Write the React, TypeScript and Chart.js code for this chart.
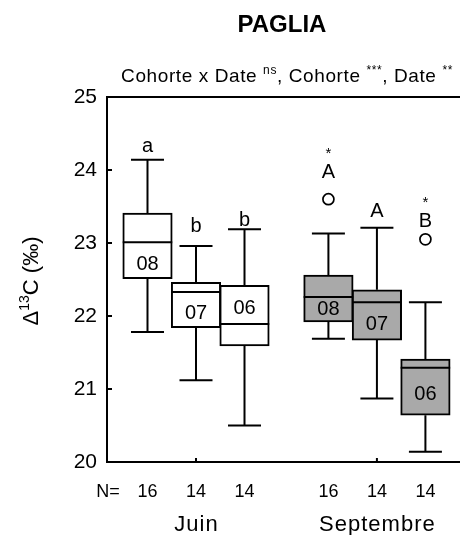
import React, { useEffect, useRef } from 'react';
import { Chart, registerables } from 'chart.js';

Chart.register(...registerables);

// ---- data ----
const cohorts = ['08', '07', '06', '08', '07', '06'];
const groups = ['Juin', 'Septembre'];
const groupOf = [0, 0, 0, 1, 1, 1];
const nValues = [16, 14, 14, 16, 14, 14];
const whiskerHigh = [24.14, 22.96, 23.19, 23.13, 23.21, 22.19];
const q3 = [23.41, 22.46, 22.42, 22.56, 22.36, 21.41];
const median = [23.01, 22.33, 21.89, 22.26, 22.19, 21.29];
const q1 = [22.51, 21.84, 21.59, 21.92, 21.67, 20.64];
const whiskerLow = [21.78, 21.12, 20.5, 21.69, 20.87, 20.14];
const outliers: (number | null)[] = [null, null, null, 23.6, null, 23.05];
const letters = ['a', 'b', 'b', 'A', 'A', 'B'];
const letterY = [24.25, 23.15, 23.23, 23.89, 23.36, 23.22];
const stars = ['', '', '', '*', '', '*'];
const cohortLabelY = [22.7, 22.04, 22.1, 22.09, 21.88, 20.92];
const yTicks = [20, 21, 22, 23, 24, 25];

const chartTitle = 'PAGLIA';
const subtitleParts: [string, boolean][] = [
  ['Cohorte x Date ', false],
  ['ns', true],
  [', Cohorte ', false],
  ['***', true],
  [', Date ', false],
  ['**', true],
];

// ---- layout / style ----
const W = 460;
const H = 535;
const FONT = '"Liberation Sans", Arial, Helvetica, sans-serif';
const GROUP_STEP = 3.73;
const xPos = groupOf.map((g, i) => g * GROUP_STEP + (i - g * 3) + 1);
const groupCenter = [2, 2 + GROUP_STEP];
const fills = groupOf.map((g) => (g === 0 ? '#ffffff' : '#a9a9a9'));

function drawSupText(
  ctx: CanvasRenderingContext2D,
  parts: [string, boolean][],
  size: number,
  cx: number,
  cy: number,
  rotate = false,
  spacing = 0
) {
  const supSize = Math.round(size * 0.62);
  (ctx as any).letterSpacing = `${spacing}px`;
  let total = 0;
  for (const [t, sup] of parts) {
    ctx.font = `${sup ? supSize : size}px ${FONT}`;
    total += ctx.measureText(t).width;
  }
  ctx.save();
  ctx.translate(cx, cy);
  if (rotate) ctx.rotate(-Math.PI / 2);
  let x = -total / 2;
  ctx.textAlign = 'left';
  ctx.textBaseline = 'alphabetic';
  const base = size * 0.36;
  for (const [t, sup] of parts) {
    ctx.font = `${sup ? supSize : size}px ${FONT}`;
    ctx.fillText(t, x, sup ? base - size * 0.42 : base);
    x += ctx.measureText(t).width;
  }
  ctx.restore();
  (ctx as any).letterSpacing = '0px';
}

const boxPlugin = {
  id: 'boxExtras',
  afterDatasetsDraw(chart: any) {
    const { ctx, chartArea } = chart;
    const xs = chart.scales.x;
    const ys = chart.scales.y;
    const meta = chart.getDatasetMeta(0);
    ctx.save();
    ctx.strokeStyle = '#000';
    ctx.fillStyle = '#000';
    ctx.lineWidth = 2;
    ctx.lineCap = 'butt';
    const cap = 16.5;
    cohorts.forEach((c, i) => {
      const bar = meta.data[i];
      const cx = bar.x;
      const half = bar.width / 2;
      const pHi = ys.getPixelForValue(whiskerHigh[i]);
      const pQ3 = ys.getPixelForValue(q3[i]);
      const pQ1 = ys.getPixelForValue(q1[i]);
      const pLo = ys.getPixelForValue(whiskerLow[i]);
      const pMed = ys.getPixelForValue(median[i]);
      ctx.beginPath();
      ctx.moveTo(cx, pHi);
      ctx.lineTo(cx, pQ3);
      ctx.moveTo(cx, pQ1);
      ctx.lineTo(cx, pLo);
      ctx.moveTo(cx - cap, pHi);
      ctx.lineTo(cx + cap, pHi);
      ctx.moveTo(cx - cap, pLo);
      ctx.lineTo(cx + cap, pLo);
      ctx.moveTo(cx - half, pMed);
      ctx.lineTo(cx + half, pMed);
      ctx.stroke();

      // cohort label inside box
      ctx.font = `20px ${FONT}`;
      ctx.textAlign = 'center';
      ctx.textBaseline = 'middle';
      ctx.fillText(c, cx, ys.getPixelForValue(cohortLabelY[i]));

      // letters & stars
      const ly = ys.getPixelForValue(letterY[i]);
      ctx.textBaseline = 'alphabetic';
      ctx.font = `20px ${FONT}`;
      ctx.fillText(letters[i], cx, ly);
      if (stars[i]) {
        ctx.font = `15px ${FONT}`;
        ctx.fillText(stars[i], cx, ly - 20);
      }

      // N labels
      ctx.font = `18px ${FONT}`;
      ctx.textBaseline = 'middle';
      ctx.fillText(String(nValues[i]), cx, 492);
    });

    // N=
    ctx.font = `18px ${FONT}`;
    ctx.textAlign = 'center';
    ctx.textBaseline = 'middle';
    ctx.fillText('N=', 108, 492);

    // group labels
    ctx.font = `22px ${FONT}`;
    (ctx as any).letterSpacing = '1px';
    groups.forEach((g, k) => {
      ctx.fillText(g, xs.getPixelForValue(groupCenter[k]) + 0.5, 525);
    });
    (ctx as any).letterSpacing = '0px';

    // frame
    ctx.lineWidth = 2;
    ctx.beginPath();
    ctx.moveTo(chartArea.left, chartArea.top);
    ctx.lineTo(W, chartArea.top);
    ctx.moveTo(chartArea.left, chartArea.top - 1);
    ctx.lineTo(chartArea.left, chartArea.bottom + 1);
    ctx.moveTo(chartArea.left, chartArea.bottom);
    ctx.lineTo(W, chartArea.bottom);
    yTicks.forEach((t) => {
      const p = ys.getPixelForValue(t);
      ctx.moveTo(chartArea.left, p);
      ctx.lineTo(chartArea.left + 5, p);
    });
    groupCenter.forEach((g) => {
      const p = xs.getPixelForValue(g);
      ctx.moveTo(p, chartArea.bottom);
      ctx.lineTo(p, chartArea.bottom - 4);
    });
    ctx.stroke();

    // title
    ctx.font = `bold 24px ${FONT}`;
    ctx.textAlign = 'center';
    ctx.textBaseline = 'middle';
    ctx.fillText(chartTitle, 282, 25);

    // subtitle
    drawSupText(ctx, subtitleParts, 19, 287, 75, false, 0.6);

    // y axis title
    drawSupText(ctx, [['\u0394', false], ['13', true], ['C (\u2030)', false]], 22, 30, 281, true);

    ctx.restore();
  },
};

export default function App() {
  const ref = useRef<HTMLCanvasElement | null>(null);
  useEffect(() => {
    document.body.style.margin = '0';
    const canvas = ref.current;
    if (!canvas) return;
    const outlierData = outliers
      .map((v, i) => (v === null ? null : { x: xPos[i], y: v }))
      .filter((d) => d !== null) as { x: number; y: number }[];
    const chart = new Chart(canvas, {
      type: 'bar',
      data: {
        datasets: [
          {
            type: 'bar',
            data: xPos.map((x, i) => ({ x, y: [q1[i], q3[i]] })) as any,
            backgroundColor: fills,
            borderColor: '#000',
            borderWidth: 2,
            borderSkipped: false,
            barThickness: 49.5,
            grouped: false,
          } as any,
          {
            type: 'scatter',
            data: outlierData,
            pointRadius: 5.5,
            pointBackgroundColor: '#fff',
            pointBorderColor: '#000',
            pointBorderWidth: 1.7,
            showLine: false,
            clip: false,
          } as any,
        ],
      },
      options: {
        animation: false,
        responsive: false,
        devicePixelRatio: 1,
        events: [],
        layout: { autoPadding: false, padding: { top: 97, bottom: 73, left: 0, right: 0 } },
        plugins: { legend: { display: false }, tooltip: { enabled: false }, title: { display: false } },
        scales: {
          x: { type: 'linear', min: 0.165, max: 7.443, display: false, offset: false },
          y: {
            min: 20,
            max: 25,
            afterFit: (scale: any) => {
              scale.width = 107;
            },
            grid: { display: false, drawTicks: false },
            border: { display: false },
            ticks: {
              stepSize: 1,
              padding: 10,
              color: '#000',
              font: { family: FONT, size: 21 },
            },
          },
        },
      },
      plugins: [boxPlugin],
    });
    return () => chart.destroy();
  }, []);
  return (
    <div style={{ position: 'absolute', left: 0, top: 0, width: W, height: H, background: '#fff' }}>
      <canvas ref={ref} width={W} height={H} style={{ display: 'block' }} />
    </div>
  );
}
